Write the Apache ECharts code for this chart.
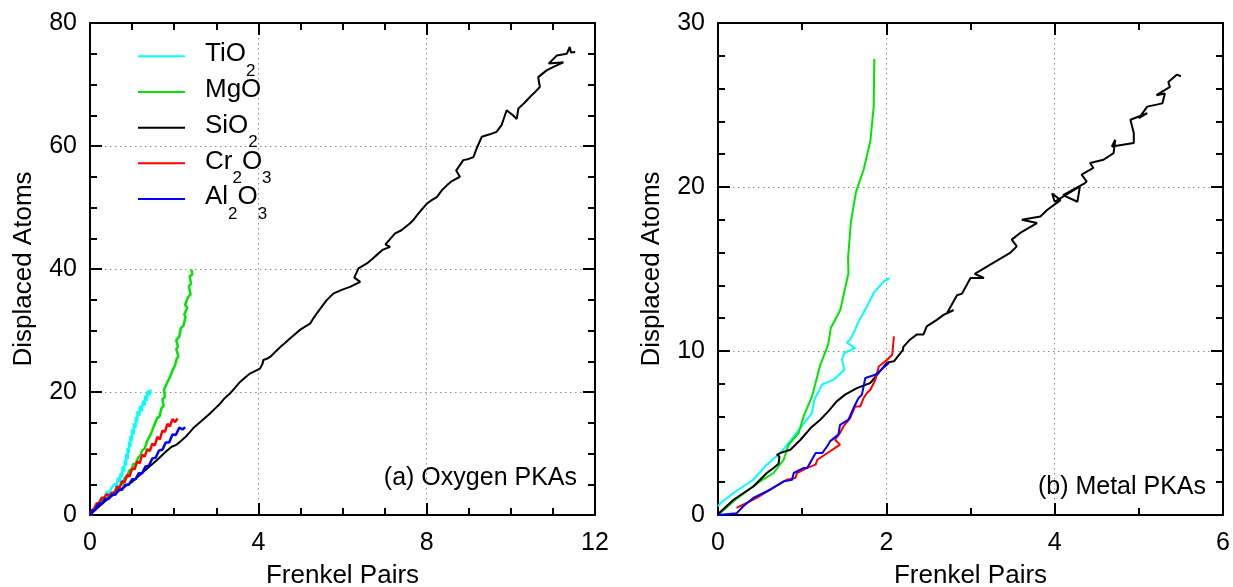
<!DOCTYPE html>
<html>
<head>
<meta charset="utf-8">
<script src="https://cdn.jsdelivr.net/npm/echarts@6/dist/echarts.min.js"></script>
<style>html,body{margin:0;padding:0;background:#fff}#c{width:1233px;height:587px}</style>
</head>
<body>
<div id="c"></div>
<script>
// ---------- data ----------
const seriesNames = ['TiO2', 'MgO', 'SiO2', 'Cr2O3', 'Al2O3'];
const seriesColors = ['#00ffff', '#00e600', '#000000', '#ff0000', '#0000ff'];

const leftXTicks = [0, 4, 8, 12];
const leftYTicks = [0, 20, 40, 60, 80];
const rightXTicks = [0, 2, 4, 6];
const rightYTicks = [0, 10, 20, 30];

// (a) Oxygen PKAs : [Frenkel pairs, displaced atoms]
const oxyTiO2 = [[0,0],[0.06,0.7],[0.1,0.8],[0.14,1.7],[0.18,1.2],[0.22,2.2],[0.28,2.9],[0.32,2.2],[0.36,3.3],[0.42,3.8],[0.46,3.1],[0.5,4.3],[0.55,4.7],[0.6,5.1],[0.63,4.5],[0.67,6.1],[0.7,5.3],[0.73,6.9],[0.76,6.2],[0.78,7.9],[0.81,7.1],[0.83,8.9],[0.86,8.1],[0.86,9.9],[0.9,9.1],[0.89,10.9],[0.92,10.1],[0.93,11.9],[0.96,11.1],[0.96,12.9],[1.0,12.1],[1.0,13.9],[1.04,13.1],[1.04,14.9],[1.08,14.1],[1.09,15.9],[1.12,15.1],[1.13,16.9],[1.17,16.1],[1.19,17.7],[1.23,16.9],[1.26,18.6],[1.3,17.8],[1.31,19.4],[1.35,18.6],[1.37,20.2],[1.42,19.5],[1.44,20.4]];
const oxyMgO = [[0,0],[0.1,1.0],[0.2,1.4],[0.3,2.4],[0.4,2.6],[0.5,3.5],[0.6,3.7],[0.7,4.7],[0.78,5.0],[0.83,6.1],[0.88,6.1],[0.93,7.2],[0.99,7.4],[1.03,8.3],[1.08,8.3],[1.15,9.4],[1.2,9.7],[1.24,10.5],[1.3,10.8],[1.35,11.9],[1.38,12.1],[1.44,13.1],[1.47,13.6],[1.52,14.5],[1.56,14.7],[1.6,15.8],[1.65,16.0],[1.7,17.4],[1.75,17.7],[1.72,18.8],[1.78,19.2],[1.76,20.4],[1.8,20.7],[1.86,21.9],[1.9,22.4],[1.96,23.5],[2.02,24.3],[2.06,25.4],[2.1,25.8],[2.05,27.0],[2.09,27.4],[2.05,28.4],[2.12,29.0],[2.16,30.4],[2.22,30.8],[2.27,32.2],[2.24,32.6],[2.31,33.7],[2.26,34.2],[2.33,35.4],[2.39,35.9],[2.35,37.2],[2.4,37.6],[2.37,38.8],[2.43,39.1],[2.41,39.9]];
const oxySiO2 = [[0,0],[0.1,0.7],[0.25,1.6],[0.4,2.5],[0.6,3.5],[0.8,4.5],[1.0,5.4],[1.2,6.6],[1.4,7.8],[1.6,9.0],[1.8,10.3],[1.94,11.1],[2.05,11.4],[2.14,11.9],[2.3,12.9],[2.45,14.1],[2.6,15.0],[2.75,15.9],[2.85,16.5],[2.97,17.3],[3.09,18.1],[3.2,19.0],[3.33,19.8],[3.45,20.7],[3.56,21.6],[3.68,22.3],[3.8,23.0],[3.92,23.4],[4.04,23.8],[4.1,24.6],[4.12,25.2],[4.2,25.4],[4.28,25.7],[4.4,26.5],[4.52,27.3],[4.64,28.0],[4.75,28.7],[4.87,29.4],[4.99,30.1],[5.1,30.6],[5.23,31.1],[5.3,31.9],[5.39,32.8],[5.5,33.8],[5.62,34.9],[5.78,36.0],[5.98,36.6],[6.18,37.1],[6.3,37.5],[6.42,37.9],[6.28,38.6],[6.38,40.1],[6.58,40.9],[6.7,41.6],[6.85,42.5],[6.95,43.1],[7.13,43.6],[7.02,44.0],[7.25,45.8],[7.4,46.3],[7.6,47.4],[7.7,48.1],[7.8,49.0],[7.9,49.8],[8.0,50.6],[8.12,51.2],[8.24,51.7],[8.36,52.8],[8.48,53.6],[8.6,54.3],[8.79,55.0],[8.7,56.0],[8.87,57.7],[9.0,57.9],[9.11,58.2],[9.2,59.8],[9.31,61.5],[9.5,61.9],[9.66,62.3],[9.78,63.4],[9.84,64.6],[9.9,65.8],[10.05,65.0],[10.14,64.4],[10.18,66.1],[10.32,67.0],[10.46,68.0],[10.58,68.8],[10.69,69.6],[10.65,71.2],[10.85,72.3],[11.05,73.0],[11.25,73.6],[10.9,73.4],[11.09,74.7],[11.33,75.0],[11.4,76.1],[11.43,75.2],[11.53,75.3]];
const oxyCr2O3 = [[0,0],[0.05,0.8],[0.1,1.0],[0.16,1.9],[0.22,1.9],[0.28,2.8],[0.34,2.8],[0.4,3.4],[0.46,3.0],[0.52,3.6],[0.58,3.6],[0.64,4.6],[0.7,4.4],[0.76,5.5],[0.82,5.3],[0.88,6.5],[0.94,6.3],[1.0,7.6],[1.06,7.4],[1.12,8.7],[1.18,8.4],[1.24,9.8],[1.3,9.5],[1.36,10.7],[1.42,10.4],[1.48,11.6],[1.54,11.3],[1.6,12.7],[1.66,12.3],[1.72,13.7],[1.78,13.5],[1.84,14.8],[1.9,14.4],[1.96,15.6],[2.02,15.1],[2.08,15.7]];
const oxyAl2O3 = [[0,0],[0.05,0.7],[0.12,0.8],[0.2,1.8],[0.28,1.8],[0.36,2.6],[0.44,2.6],[0.52,3.3],[0.6,3.3],[0.68,4.1],[0.76,4.1],[0.84,4.9],[0.92,4.9],[1.0,5.8],[1.08,5.8],[1.16,6.8],[1.24,6.8],[1.32,7.9],[1.4,8.0],[1.48,9.2],[1.56,9.3],[1.64,10.5],[1.72,10.6],[1.8,11.8],[1.88,11.8],[1.96,13.1],[2.04,13.0],[2.12,14.2],[2.2,13.9],[2.26,14.3]];

// (b) Metal PKAs
const metTiO2 = [[0,0.53],[0.03,0.73],[0.2,1.4],[0.42,2.15],[0.58,3.07],[0.74,3.78],[0.9,4.79],[1.117,6.22],[1.144,7.03],[1.236,7.95],[1.374,8.25],[1.5,8.86],[1.473,9.47],[1.5,9.88],[1.63,10.18],[1.53,10.52],[1.57,10.69],[1.63,11.3],[1.66,11.7],[1.77,12.72],[1.85,13.54],[1.97,14.24],[2.04,14.45]];
const metMgO = [[0,0],[0.07,0.32],[0.206,0.93],[0.364,1.54],[0.5,2.05],[0.66,2.56],[0.78,3.37],[0.839,4.29],[0.958,5.0],[1.017,6.01],[1.117,7.23],[1.215,9.16],[1.31,10.4],[1.34,11.4],[1.453,12.5],[1.55,14.75],[1.545,15.67],[1.58,17.9],[1.64,19.7],[1.73,21.05],[1.81,22.8],[1.85,24.9],[1.857,27.8]];
const metSiO2 = [[0,0],[0.03,0.2],[0.185,0.93],[0.42,1.74],[0.58,2.56],[0.66,2.87],[0.72,3.13],[0.73,3.57],[0.7,3.68],[0.76,3.82],[0.86,3.98],[0.98,4.59],[1.1,5.3],[1.215,5.81],[1.31,6.32],[1.41,6.93],[1.51,7.34],[1.65,7.74],[1.81,8.05],[1.89,8.55],[2.01,9.3],[2.09,9.37],[2.2,10.08],[2.2,10.24],[2.28,10.69],[2.36,11.0],[2.44,11.0],[2.48,11.5],[2.6,11.9],[2.68,12.2],[2.8,12.5],[2.72,12.3],[2.84,13.4],[2.9,13.5],[3.0,14.45],[3.16,14.45],[3.05,14.7],[3.2,15.16],[3.47,15.98],[3.55,16.38],[3.49,16.79],[3.59,17.2],[3.79,17.8],[3.61,18.0],[3.83,18.2],[3.91,18.6],[4.07,19.2],[3.97,19.6],[4.0,19.1],[4.3,20.04],[4.27,19.1],[4.1,19.5],[4.35,20.2],[4.38,20.34],[4.32,20.75],[4.46,21.16],[4.42,21.46],[4.58,21.66],[4.7,22.07],[4.72,22.88],[4.68,22.47],[4.94,22.68],[4.94,23.3],[4.9,24.1],[5.1,24.5],[5.0,24.2],[5.1,24.9],[5.28,25.1],[5.31,25.7],[5.21,25.6],[5.37,26.1],[5.35,26.4],[5.45,26.85],[5.5,26.75]];
const metCr2O3 = [[0.22,0.43],[0.46,1.04],[0.66,1.68],[0.82,2.15],[0.92,2.26],[0.94,2.56],[1.06,2.87],[1.16,3.07],[1.18,3.37],[1.3,3.78],[1.45,4.29],[1.39,4.59],[1.45,5.0],[1.49,5.4],[1.57,5.91],[1.63,6.62],[1.69,6.62],[1.73,7.13],[1.77,7.44],[1.81,7.64],[1.87,8.25],[1.91,9.06],[2.01,9.47],[2.07,9.77],[2.09,10.89]];
const metAl2O3 = [[0,0],[0.22,0.1],[0.3,0.53],[0.42,1.04],[0.62,1.54],[0.78,2.05],[0.88,2.15],[0.9,2.56],[1.02,2.87],[1.06,2.87],[1.16,3.78],[1.24,3.78],[1.31,4.29],[1.33,4.49],[1.43,4.9],[1.45,5.5],[1.55,5.81],[1.61,6.52],[1.67,7.13],[1.71,7.34],[1.75,8.35],[1.87,8.55],[2.03,9.27]];

const oxyData = [oxyTiO2, oxyMgO, oxySiO2, oxyCr2O3, oxyAl2O3];
const metData = [metTiO2, metMgO, metSiO2, metCr2O3, metAl2O3];

// ---------- chart ----------
const FONT = 'Liberation Sans, Arial, Helvetica, sans-serif';
const chart = echarts.init(document.getElementById('c'), null, {renderer: 'canvas'});

function axisPair(gridIndex, min, max, interval, minorSplit, isX, name) {
  const common = {
    type: 'value', gridIndex, min, max, interval,
    axisLine: {show: true, onZero: false, lineStyle: {color: '#000', width: 2}},
    axisTick: {show: true, inside: true, length: 12, lineStyle: {color: '#000', width: 2}},
    minorTick: {show: true, splitNumber: minorSplit, length: 7, lineStyle: {color: '#000', width: 2}},
    splitLine: {show: false},
    axisLabel: {show: false}
  };
  const main = Object.assign({}, common, {
    position: isX ? 'bottom' : 'left',
    splitLine: {show: true, lineStyle: {color: '#8a8a8a', width: 1, type: [1.5, 3.5]}},
    axisLabel: {show: true, color: '#000', fontFamily: FONT, fontSize: 25, margin: isX ? 16 : 13},
    name: name, nameLocation: 'middle', nameGap: isX ? 48 : 53,
    nameTextStyle: {color: '#000', fontFamily: FONT, fontSize: 26}
  });
  const mirror = Object.assign({}, common, {position: isX ? 'top' : 'right'});
  return [main, mirror];
}

const xAxes = [
  ...axisPair(0, 0, 12, 4, 4, true, 'Frenkel Pairs'),
  ...axisPair(1, 0, 6, 2, 2, true, 'Frenkel Pairs')
];
const yAxes = [
  ...axisPair(0, 0, 80, 20, 4, false, 'Displaced Atoms'),
  ...axisPair(1, 0, 30, 10, 5, false, 'Displaced Atoms')
];

const series = [];
seriesNames.forEach((n, i) => {
  series.push({
    name: n, type: 'line', xAxisIndex: 0, yAxisIndex: 0, data: oxyData[i],
    symbol: 'none', silent: true, animation: false,
    lineStyle: {color: seriesColors[i], width: i === 2 ? 2 : 2.5}, itemStyle: {color: seriesColors[i]}
  });
});
seriesNames.forEach((n, i) => {
  series.push({
    name: n, type: 'line', xAxisIndex: 2, yAxisIndex: 2, data: metData[i],
    symbol: 'none', silent: true, animation: false,
    lineStyle: {color: seriesColors[i], width: 2}, itemStyle: {color: seriesColors[i]}
  });
});

function richName(n) {
  const parts = n.match(/[A-Za-z]+|\d+/g);
  return '{g| }' + parts.map(p => /\d/.test(p) ? '{s|' + p + '}' : '{m|' + p + '}').join('');
}
const legendRich = {
  g: {width: 15, fontSize: 10, lineHeight: 10, verticalAlign: 'top'},
  m: {fontSize: 26, fontFamily: FONT, color: '#000', lineHeight: 34, padding: [2, 0, 3.5, 0], verticalAlign: 'top'},
  s: {fontSize: 17, fontFamily: FONT, color: '#000', lineHeight: 15, padding: [23.5, 0, 0, 0], verticalAlign: 'top'}
};
const legendLineY = [59, 94.7, 130.4, 166.1, 201.8];
const legends = seriesNames.map((n, i) => ({
  data: [n], left: 138, top: legendLineY[i] - 19.75, padding: 0,
  icon: 'rect', itemWidth: 47, itemHeight: 2, selectedMode: false,
  formatter: richName,
  textStyle: {rich: legendRich}
}));

chart.setOption({
  animation: false,
  backgroundColor: '#fff',
  grid: [
    {left: 90, top: 23, width: 505, height: 492, containLabel: false, outerBoundsMode: 'none'},
    {left: 718, top: 23, width: 505, height: 492, containLabel: false, outerBoundsMode: 'none'}
  ],
  xAxis: xAxes,
  yAxis: yAxes,
  legend: legends,
  series: series,
  graphic: [
    {type: 'text', right: 1233 - 577, top: 466, style: {text: '(a) Oxygen PKAs', font: '25px ' + FONT, fill: '#000'}},
    {type: 'text', right: 1233 - 1206, top: 475, style: {text: '(b) Metal PKAs', font: '25px ' + FONT, fill: '#000'}}
  ]
});
</script>
</body>
</html>
